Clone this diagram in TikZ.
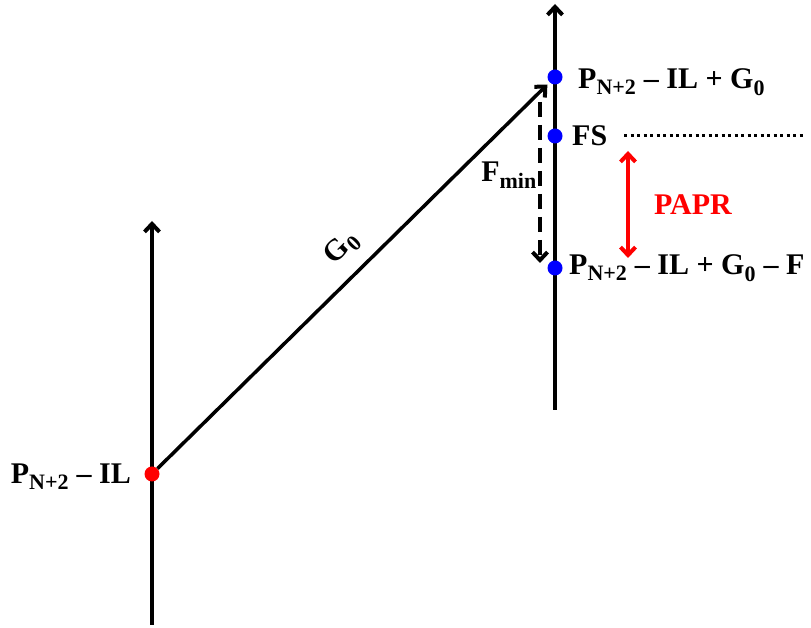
\documentclass[tikz,border=0pt]{standalone}
\usepackage{amsmath}
\usepackage{fontspec}
\setmainfont{Liberation Serif}
\DeclareMathSizes{30}{30}{22}{17}
\usetikzlibrary{arrows.meta}
\begin{document}
\begin{tikzpicture}[x=1pt,y=1pt,
    barb/.tip={Straight Barb[length=8pt,width=15pt,line width=4pt]},
    axis/.style={line width=3.5pt,-barb},
    dot/.style={circle,fill=#1,inner sep=0pt,minimum size=15pt},
    lbl/.style={font=\bfseries\fontsize{30}{34}\selectfont,inner sep=0pt}]
  \useasboundingbox (0,0) rectangle (811,628);
  % axes
  \coordinate (lbot) at (152,3);
  \coordinate (ltop) at (152,407);
  \coordinate (rbot) at (555,218);
  \coordinate (rtop) at (555,624);
  \draw[axis] (lbot) -- (ltop);
  \draw[axis] (rbot) -- (rtop);
  % levels
  \node[dot=red] (in) at (152,154) {};
  \node[dot=blue] (out) at (555,551) {};
  \node[dot=blue] (fs) at (555,492) {};
  \node[dot=blue] (low) at (555,360) {};
  \draw[axis,shorten >=3pt] (in) -- (out);
  \node[lbl,rotate=45] (gain) at (342,380) {G$_\text{0}$};
  % dashed back-off
  \coordinate (fa) at (540,526);
  \coordinate (fb) at (540,365);
  \draw[axis,dash pattern=on 15pt off 8pt] (fa) -- (fb);
  \node[lbl,anchor=base east] (fmin) at (537,446) {F$_\text{min}$};
  % full scale and PAPR
  \coordinate (ds) at (624,492);
  \coordinate (de) at (803,492);
  \draw[line width=3pt,dash pattern=on 3pt off 3.5pt] (ds) -- (de);
  \coordinate (pa) at (628,477);
  \coordinate (pb) at (628,370);
  \draw[red,line width=3.5pt,barb-barb] (pa) -- (pb);
  \node[lbl,red] (papr) at (693,423) {PAPR};
  % labels
  \node[lbl,anchor=base west] at (578,539) {P$_\text{N+2}$ -- IL + G$_\text{0}$};
  \node[lbl,anchor=west] at (572,492) {FS};
  \node[lbl,anchor=base west] at (569,353) {P$_\text{N+2}$ -- IL + G$_\text{0}$ -- F};
  \node[lbl,anchor=base east] at (131,144) {P$_\text{N+2}$ -- IL};
\end{tikzpicture}
\end{document}
